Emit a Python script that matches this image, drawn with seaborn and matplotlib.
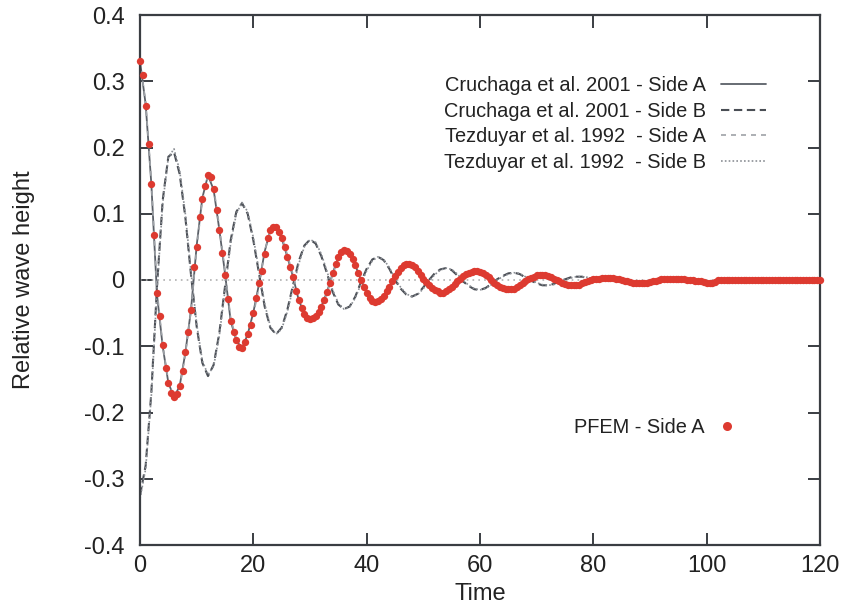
import numpy as np
import matplotlib
matplotlib.use("Agg")
import matplotlib.pyplot as plt
import seaborn as sns
from matplotlib.lines import Line2D

# ---------------- data ----------------
ref_time_step = 1.0   # reference curves sampled every 1 time unit, t = 0..80

cruchaga_side_a = [
    0.330, 0.265, 0.145, -0.022, -0.100, -0.155, -0.177, -0.160, -0.110, -0.045,
    0.052, 0.124, 0.158, 0.136, 0.076, 0.010, -0.062, -0.091, -0.103, -0.082,
    -0.049, -0.006, 0.043, 0.075, 0.080, 0.063, 0.035, 0.005, -0.030, -0.051,
    -0.059, -0.054, -0.040, -0.018, 0.010, 0.035, 0.045, 0.040, 0.022, 0.000,
    -0.020, -0.031, -0.032, -0.024, -0.010, 0.006, 0.018, 0.024, 0.023, 0.014,
    0.002, -0.008, -0.015, -0.019, -0.017, -0.010, -0.002, 0.006, 0.011, 0.013,
    0.012, 0.007, 0.000, -0.007, -0.012, -0.014, -0.013, -0.008, -0.002, 0.003,
    0.007, 0.008, 0.006, 0.002, -0.002, -0.006, -0.008, -0.008, -0.005, -0.002,
    0.001]

cruchaga_side_b = [
    -0.325, -0.280, -0.170, -0.010, 0.120, 0.186, 0.193, 0.160, 0.095, 0.008,
    -0.070, -0.125, -0.145, -0.128, -0.080, -0.010, 0.060, 0.103, 0.116, 0.100,
    0.060, 0.010, -0.040, -0.072, -0.082, -0.072, -0.045, -0.008, 0.028, 0.052,
    0.061, 0.055, 0.036, 0.010, -0.018, -0.037, -0.044, -0.040, -0.025, -0.003,
    0.017, 0.031, 0.035, 0.030, 0.017, 0.000, -0.013, -0.022, -0.025, -0.021,
    -0.011, 0.000, 0.010, 0.016, 0.018, 0.015, 0.007, -0.002, -0.009, -0.014,
    -0.015, -0.012, -0.006, 0.001, 0.006, 0.010, 0.011, 0.009, 0.004, -0.001,
    -0.005, -0.008, -0.008, -0.006, -0.002, 0.001, 0.004, 0.005, 0.005, 0.003,
    0.001]

tezduyar_side_a = [
    0.330, 0.268, 0.150, -0.015, -0.098, -0.152, -0.178, -0.163, -0.112, -0.047,
    0.048, 0.120, 0.160, 0.140, 0.080, 0.014, -0.058, -0.090, -0.104, -0.085,
    -0.053, -0.010, 0.044, 0.074, 0.081, 0.066, 0.038, 0.008, -0.026, -0.048,
    -0.059, -0.056, -0.042, -0.020, 0.008, 0.033, 0.045, 0.041, 0.024, 0.002,
    -0.018, -0.030, -0.032, -0.025, -0.012, 0.004, 0.017, 0.024, 0.024, 0.015,
    0.004, -0.007, -0.014, -0.019, -0.018, -0.011, -0.003, 0.005, 0.010, 0.013,
    0.012, 0.008, 0.001, -0.006, -0.011, -0.014, -0.013, -0.009, -0.003, 0.002,
    0.006, 0.008, 0.007, 0.003, -0.001, -0.005, -0.008, -0.008, -0.006, -0.003,
    0.000]

tezduyar_side_b = [
    -0.330, -0.285, -0.175, -0.015, 0.115, 0.185, 0.198, 0.165, 0.100, 0.012,
    -0.066, -0.122, -0.143, -0.130, -0.084, -0.015, 0.055, 0.100, 0.117, 0.103,
    0.064, 0.014, -0.036, -0.070, -0.082, -0.074, -0.048, -0.012, 0.024, 0.050,
    0.061, 0.057, 0.039, 0.013, -0.015, -0.035, -0.044, -0.041, -0.027, -0.006,
    0.014, 0.029, 0.035, 0.031, 0.019, 0.002, -0.011, -0.021, -0.025, -0.022,
    -0.013, -0.002, 0.008, 0.015, 0.018, 0.016, 0.009, 0.000, -0.008, -0.013,
    -0.015, -0.013, -0.007, 0.000, 0.005, 0.009, 0.011, 0.010, 0.005, 0.000,
    -0.004, -0.007, -0.008, -0.007, -0.003, 0.000, 0.003, 0.005, 0.005, 0.004,
    0.002]

pfem_time_step = 0.5  # PFEM points every 0.5 time units, t = 0..120

pfem_side_a = [
    0.330, 0.310, 0.262, 0.205, 0.145, 0.068, -0.020, -0.055, -0.098, -0.133,
    -0.155, -0.170, -0.177, -0.172, -0.160, -0.138, -0.108, -0.078, -0.045, 0.020,
    0.050, 0.095, 0.122, 0.142, 0.158, 0.156, 0.137, 0.106, 0.076, 0.041,
    0.007, -0.028, -0.062, -0.078, -0.091, -0.101, -0.103, -0.093, -0.082, -0.068,
    -0.050, -0.027, -0.005, 0.013, 0.040, 0.064, 0.075, 0.080, 0.080, 0.073,
    0.063, 0.050, 0.035, 0.020, 0.005, -0.016, -0.030, -0.042, -0.051, -0.057,
    -0.059, -0.058, -0.054, -0.048, -0.040, -0.030, -0.018, -0.004, 0.010, 0.024,
    0.035, 0.042, 0.045, 0.044, 0.040, 0.032, 0.022, 0.011, 0.000, -0.011,
    -0.020, -0.027, -0.031, -0.033, -0.032, -0.029, -0.024, -0.017, -0.010, -0.002,
    0.006, 0.012, 0.018, 0.022, 0.024, 0.024, 0.023, 0.019, 0.014, 0.008,
    0.002, -0.003, -0.008, -0.012, -0.015, -0.017, -0.019, -0.019, -0.017, -0.014,
    -0.010, -0.006, -0.002, 0.002, 0.006, 0.009, 0.011, 0.012, 0.013, 0.013,
    0.012, 0.010, 0.007, 0.004, 0.000, -0.004, -0.007, -0.010, -0.012, -0.013,
    -0.014, -0.014, -0.013, -0.011, -0.008, -0.005, -0.002, 0.001, 0.003, 0.005,
    0.007, 0.008, 0.008, 0.008, 0.006, 0.004, 0.002, 0.000, -0.002, -0.004,
    -0.006, -0.007, -0.008, -0.008, -0.008, -0.007, -0.005, -0.003, -0.002, 0.000,
    0.001, 0.002, 0.002, 0.003, 0.003, 0.003, 0.003, 0.003, 0.002, 0.001,
    0.000, -0.001, -0.002, -0.003, -0.004, -0.004, -0.005, -0.005, -0.005, -0.004,
    -0.003, -0.002, -0.001, 0.000, 0.001, 0.001, 0.002, 0.002, 0.002, 0.002,
    0.001, 0.001, 0.001, 0.000, 0.000, 0.000, -0.001, -0.001, -0.002, -0.003,
    -0.004, -0.005, -0.005, -0.003, 0.000, 0.000, 0.000, 0.000, 0.000, 0.000,
    0.000, 0.000, 0.000, 0.000, 0.000, 0.000, 0.000, 0.000, 0.000, 0.000,
    0.000, 0.000, 0.000, 0.000, 0.000, 0.000, 0.000, 0.000, 0.000, 0.000,
    0.000, 0.000, 0.000, 0.000, 0.000, 0.000, 0.000, 0.000, 0.000, 0.000,
    0.000]

series_labels = ["Cruchaga et al. 2001 - Side A", "Cruchaga et al. 2001 - Side B",
                 "Tezduyar et al. 1992  - Side A", "Tezduyar et al. 1992  - Side B"]
pfem_label = "PFEM - Side A"

x_ticks = [0, 20, 40, 60, 80, 100, 120]
y_ticks = [-0.4, -0.3, -0.2, -0.1, 0.0, 0.1, 0.2, 0.3, 0.4]
y_tick_labels = ["-0.4", "-0.3", "-0.2", "-0.1", "0", "0.1", "0.2", "0.3", "0.4"]

# ---------------- plotting ----------------
sns.set_style("ticks")
plt.rcParams["font.family"] = ["Liberation Sans", "DejaVu Sans"]

fig = plt.figure(figsize=(8.43, 6.08), dpi=100)
ax = fig.add_axes([140 / 843, 63 / 608, 680 / 843, 530 / 608])

ax.axhline(0, color="#b0b0b0", lw=1.2, ls=(0, (1, 2.5)), zorder=1)

ref_series = [cruchaga_side_a, cruchaga_side_b, tezduyar_side_a, tezduyar_side_b]
styles = [
    dict(color="#5b6068", linestyle="-", linewidth=1.3),
    dict(color="#4a4e55", linestyle=(0, (4, 2.2)), linewidth=1.5),
    dict(color="#9ea2a7", linestyle=(0, (3, 3)), linewidth=1.2),
    dict(color="#8b8f95", linestyle=(0, (1, 1.3)), linewidth=1.2),
]
draw_order = [2, 3, 1, 0]
for i in draw_order:
    vals = ref_series[i]
    t = np.arange(len(vals)) * ref_time_step
    sns.lineplot(x=t, y=vals, ax=ax, legend=False, zorder=2 + i * 0.1, **styles[i])

pfem_t = np.arange(len(pfem_side_a)) * pfem_time_step
red = "#dd3a30"
sns.scatterplot(x=pfem_t, y=pfem_side_a, ax=ax, color=red, s=28, linewidth=0,
                legend=False, zorder=5, clip_on=False)

ax.set_xlim(0, 120)
ax.set_ylim(-0.4, 0.4)
ax.set_xticks(x_ticks)
ax.set_xticklabels([str(v) for v in x_ticks])
ax.set_yticks(y_ticks)
ax.set_yticklabels(y_tick_labels)

for s in ax.spines.values():
    s.set_visible(True)
    s.set_color("#3a3d42")
    s.set_linewidth(1.6)

ax.tick_params(axis="both", direction="in", length=9, width=1.4, color="#3a3d42",
               top=True, right=True, labelsize=17, labelcolor="#222222")
ax.tick_params(axis="x", pad=7)
ax.tick_params(axis="y", pad=11)

ax.set_xlabel("Time", fontsize=17, color="#222222")
ax.set_ylabel("Relative wave height", fontsize=17, color="#222222")
ax.xaxis.set_label_coords(0.5, -0.071)
ax.yaxis.set_label_coords(-0.154, 0.5)

handles = [Line2D([], [], **styles[i]) for i in range(4)]
leg1 = ax.legend(handles=handles, labels=series_labels, loc="upper right",
                 bbox_to_anchor=(0.9206, 0.885), frameon=False, markerfirst=False,
                 fontsize=14.4, handlelength=2.25, handletextpad=0.75,
                 labelspacing=0.33, borderpad=0, borderaxespad=0)
for txt in leg1.get_texts():
    txt.set_color("#222222")
ax.add_artist(leg1)

pfem_handle = Line2D([], [], ls="none", marker="o", color=red, markersize=6.5,
                     markeredgewidth=0)
leg2 = ax.legend(handles=[pfem_handle], labels=[pfem_label], loc="center right",
                 bbox_to_anchor=(0.878, 0.2226), frameon=False, markerfirst=False,
                 fontsize=14.4, handlelength=1.0, handletextpad=0.6,
                 borderpad=0, borderaxespad=0)
for txt in leg2.get_texts():
    txt.set_color("#222222")

fig.savefig("out.png", dpi=100, facecolor="white")
